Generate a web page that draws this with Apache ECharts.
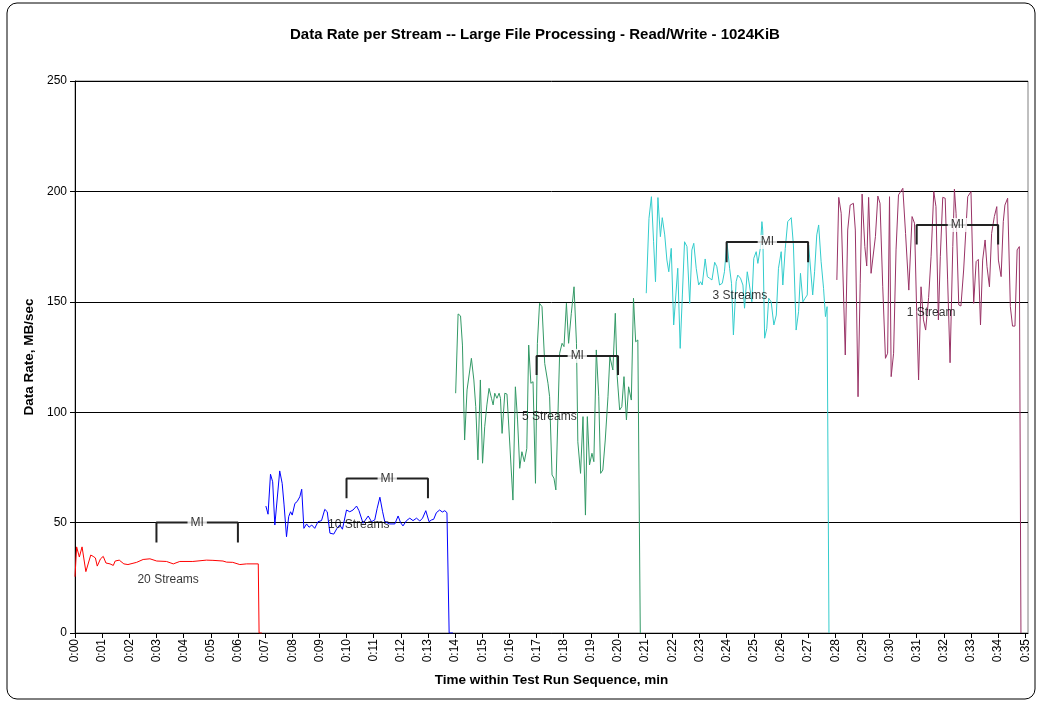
<!DOCTYPE html>
<html><head><meta charset="utf-8">
<script src="https://cdn.jsdelivr.net/npm/echarts@6/dist/echarts.min.js"></script>
<style>html,body{margin:0;padding:0;background:#fff}#c{width:1041px;height:704px}</style>
</head><body><div id="c"></div>
<script>
// ---- data (minutes, MB/sec) ----
var redT = [0,0.06,0.16,0.26,0.33,0.40,0.58,0.67,0.75,0.82,0.94,1.04,1.14,1.29,1.41,1.48,1.63,1.80,1.95,2.27,2.51,2.76,3.01,3.37,3.62,3.86,4.34,4.84,5.08,5.45,5.58,5.81,6.07,6.32,6.75,6.78,6.88];
var redV = [25.5,39,34.4,39,39,27.8,35.3,34.7,34,30.3,33.6,34.7,31.7,31.3,30.6,32.6,33,31.3,31,32,33.3,33.6,32.6,32.4,31.3,32.4,32.4,33,32.9,32.6,32.1,32,31,31.3,31.3,0,0];

var blueT = [7.03,7.11,7.20,7.28,7.36,7.54,7.63,7.70,7.79,7.87,7.94,8.00,8.10,8.18,8.28,8.35,8.43,8.53,8.62,8.72,8.83,8.95,9.08,9.20,9.29,9.39,9.53,9.65,9.75,9.85,10.00,10.12,10.24,10.37,10.46,10.61,10.80,10.92,11.04,11.13,11.23,11.33,11.41,11.59,11.78,11.90,11.99,12.08,12.21,12.33,12.45,12.58,12.70,12.80,12.92,13.04,13.13,13.21,13.31,13.43,13.53,13.62,13.70,13.78,13.92];
var blueV = [57.5,53.8,71.9,68.5,48.9,73.4,67.8,58,43.6,52.7,54.9,53.4,58.7,59.5,61.7,65.1,47.4,49.4,47.9,48.9,47.4,50.4,50.9,56,54.9,45.2,44.8,47.4,48.9,47,55.7,54.9,55.7,57.5,55.4,49.7,53,50.4,51.2,56.5,61.5,54.9,50.4,49.4,49.4,53,50,48.5,50.9,52,50.9,52,50.7,52,55.4,50.4,51.2,51.5,54.5,55.7,54.8,55.4,54.5,0,0];

var greenT = [14.02,14.11,14.20,14.27,14.35,14.44,14.51,14.60,14.69,14.76,14.84,14.93,15.01,15.09,15.17,15.25,15.34,15.40,15.46,15.54,15.62,15.67,15.73,15.83,15.91,15.98,16.13,16.22,16.30,16.38,16.46,16.55,16.64,16.71,16.79,16.87,16.96,17.03,17.11,17.20,17.30,17.42,17.48,17.57,17.64,17.71,17.85,17.94,18.01,18.10,18.18,18.28,18.38,18.47,18.52,18.62,18.71,18.80,18.87,18.95,19.04,19.11,19.20,19.29,19.36,19.44,19.53,19.63,19.70,19.81,19.90,19.97,20.06,20.14,20.22,20.31,20.39,20.49,20.57,20.65,20.73,20.82];
var greenV = [108.6,144.5,143.6,130.4,87.4,110.1,109.3,124.4,114.6,102.5,78.4,114.6,76.9,93.4,103.3,110.8,106.3,103.3,108.6,106.3,108.6,106.3,90.4,108.6,108.2,107.8,60.2,111.5,96.5,74.6,82.1,77.6,83.6,130.4,113.1,113.8,67.8,131.2,149.3,147.8,122.1,113.1,107,71.6,70.1,64.8,126.7,131.2,129.7,149.3,131.2,144.8,156.8,131.2,86.6,72.3,98,53.4,98,76.1,81.4,77.6,128.2,107,72.3,73.8,87.4,107,125.1,119.1,144.8,116.1,101,102.5,116.1,96.5,111.5,105.5,151.6,131.9,132.7,0];

var cyanT = [21.04,21.14,21.23,21.31,21.38,21.47,21.56,21.63,21.72,21.80,21.87,21.96,22.05,22.12,22.20,22.29,22.37,22.45,22.54,22.64,22.72,22.79,22.88,22.97,23.04,23.10,23.21,23.29,23.37,23.46,23.56,23.64,23.74,23.84,23.92,24.01,24.11,24.18,24.25,24.35,24.41,24.51,24.60,24.66,24.76,24.84,24.93,25.00,25.09,25.15,25.24,25.30,25.33,25.40,25.48,25.55,25.64,25.74,25.83,25.91,26.01,26.07,26.16,26.25,26.38,26.46,26.56,26.65,26.72,26.81,26.89,26.97,27.02,27.09,27.17,27.24,27.32,27.39,27.48,27.57,27.64,27.70,27.77];
var cyanV = [153.9,187.8,197.6,177.2,159.1,197.2,179.5,188.1,180.3,168.9,163.6,174.2,139.5,139.5,165.2,128.9,153.1,177.2,175,149.3,173.5,176.5,165.2,157.6,159.1,157.6,169.4,161.4,160.7,159.9,167.9,165.9,157.6,158.4,163.6,177.2,165.2,158.4,135,159.1,162.1,160.7,157.6,147.1,163.6,157.6,150,169.7,172.7,167.4,174.2,186.3,182.5,133.5,138,151.6,150,139.5,144,165.2,172.7,157.6,174.2,186.3,188.1,175.7,137.2,145.5,162.9,150,151.6,153.1,175.7,175,153.1,163.6,180.3,184.8,168.2,156.1,143.3,147.8,0];

var magT = [28.06,28.13,28.22,28.37,28.46,28.55,28.67,28.74,28.84,28.92,28.99,29.09,29.16,29.23,29.32,29.38,29.48,29.57,29.65,29.75,29.85,29.93,30.00,30.06,30.15,30.24,30.33,30.40,30.49,30.59,30.71,30.83,30.92,31.00,31.07,31.16,31.25,31.33,31.44,31.53,31.63,31.71,31.80,31.87,31.96,32.05,32.14,32.23,32.33,32.39,32.45,32.55,32.63,32.73,32.88,33.00,33.10,33.19,33.27,33.35,33.43,33.52,33.59,33.68,33.76,33.86,33.95,34.01,34.11,34.19,34.25,34.35,34.45,34.53,34.62,34.70,34.78,34.84];
var magV = [159.9,197.3,190.1,125.9,182.5,193.8,194.6,182.5,107,158.4,198.8,175,166.2,197.3,162.9,163.6,179.5,197.9,194.6,156.8,124.4,126.7,197.6,116.1,126.7,173.5,198.4,197.9,201.4,181,155.3,188.6,185.6,145.5,114.6,156.8,141.8,137.2,152,170.4,199.9,193.1,141.8,170.4,197.3,196.9,159.9,122.4,175,201,190.1,148.6,148.1,164.4,197.6,199.9,149.3,168.2,169.2,139.5,168.9,178,165.9,156.8,181,188.6,193.1,168.9,161.4,186.3,193.8,196.9,147.8,139,139,173.5,175,0];

// measurement-interval ("MI") brackets
var miStart  = [3, 10, 17, 24, 31];
var miEnd    = [6, 13, 20, 27, 34];
var miTop    = [50, 70, 125.5, 177.1, 184.8];
var miBottom = [41, 61, 116.8, 167.9, 176];

// stream-count labels
var streamNames = ['20 Streams', '10 Streams', '5 Streams', '3 Streams', '1 Stream'];
var streamX     = [3.43, 10.45, 17.47, 24.49, 31.53];
var streamY     = [24.3, 48.9, 98, 152.6, 145];

var yTicks = [0, 50, 100, 150, 200, 250];

// ---- build ----
function zip(t, v) { var o = []; for (var i = 0; i < Math.min(t.length, v.length); i++) o.push([t[i], v[i]]); return o; }
var FONT = '"Liberation Sans", Arial, sans-serif';
var lines = [
  {d: zip(redT, redV), c: '#FF0000'},
  {d: zip(blueT, blueV), c: '#0000FF'},
  {d: zip(greenT, greenV), c: '#339966'},
  {d: zip(cyanT, cyanV), c: '#33CCCC'},
  {d: zip(magT, magV), c: '#993366'}
];
var series = lines.map(function (l) {
  return {type: 'line', data: l.d, showSymbol: false, symbol: 'none', animation: false,
          lineStyle: {color: l.c, width: 1}, itemStyle: {color: l.c}, z: 3};
});
for (var i = 0; i < miStart.length; i++) {
  series.push({type: 'line', showSymbol: false, symbol: 'none', animation: false, z: 4,
    lineStyle: {color: '#222', width: 2},
    data: [[miStart[i], miBottom[i]], [miStart[i], miTop[i]], [miEnd[i], miTop[i]], [miEnd[i], miBottom[i]]]});
}
series.push({type: 'scatter', symbolSize: 0, animation: false, z: 6,
  data: miStart.map(function (s, i) { return [(s + miEnd[i]) / 2, miTop[i]]; }),
  label: {show: true, position: 'inside', formatter: 'MI', color: '#000', fontSize: 12, fontFamily: FONT,
          backgroundColor: '#fff', padding: [1, 3]}});
series.push({type: 'scatter', symbolSize: 0, animation: false, z: 6,
  data: streamX.map(function (x, i) { return {value: [x, streamY[i]], name: streamNames[i]}; }),
  label: {show: true, position: 'inside', formatter: '{b}', color: '#000', fontSize: 12, fontFamily: FONT}});

var chart = echarts.init(document.getElementById('c'), null, {renderer: 'canvas'});
chart.setOption({
  animation: false,
  backgroundColor: '#fff',
  title: {text: 'Data Rate per Stream -- Large File Processing - Read/Write - 1024KiB', left: 285, top: 22,
          textStyle: {fontSize: 15, fontWeight: 'bold', color: '#000', fontFamily: FONT}},
  graphic: [{type: 'rect', shape: {x: 7, y: 3, width: 1028, height: 696, r: 10},
             style: {fill: 'none', stroke: '#000', lineWidth: 1}, silent: true, z: 0}],
  grid: {left: 75, right: 13, top: 81, bottom: 71, show: true, borderColor: '#808080', borderWidth: 1, backgroundColor: 'transparent'},
  xAxis: {type: 'value', min: 0, max: 35.1, interval: 1,
    name: 'Time within Test Run Sequence, min', nameLocation: 'middle', nameGap: 40,
    nameTextStyle: {fontSize: 13.5, fontWeight: 'bold', color: '#000', fontFamily: FONT},
    axisLine: {show: true, onZero: false, lineStyle: {color: '#000', width: 1}},
    axisTick: {show: true, length: 5, lineStyle: {color: '#000'}},
    splitLine: {show: false},
    axisLabel: {rotate: 90, fontSize: 12, color: '#000', fontFamily: FONT, margin: 6, showMaxLabel: false,
      formatter: function (v) { if (Math.abs(v - Math.round(v)) > 1e-6) return ''; var n = Math.round(v); return '0:' + (n < 10 ? '0' + n : n); }}},
  yAxis: {type: 'value', min: yTicks[0], max: yTicks[yTicks.length - 1], interval: yTicks[1] - yTicks[0],
    name: 'Data Rate, MB/sec', nameLocation: 'middle', nameGap: 35,
    nameTextStyle: {fontSize: 13.5, fontWeight: 'bold', color: '#000', fontFamily: FONT},
    axisLine: {show: true, lineStyle: {color: '#000', width: 1}},
    axisTick: {show: true, length: 5, lineStyle: {color: '#000'}},
    splitLine: {show: true, lineStyle: {color: '#000', width: 1}},
    axisLabel: {fontSize: 12, color: '#000', fontFamily: FONT, margin: 8}},
  series: series
});
</script></body></html>
